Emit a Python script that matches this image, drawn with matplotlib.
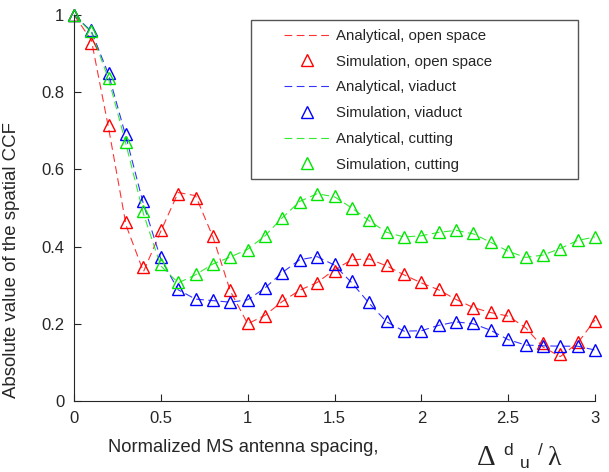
import numpy as np
import matplotlib.pyplot as plt
from matplotlib.patches import Rectangle

plt.rcParams['font.family'] = ['Liberation Sans', 'DejaVu Sans']

# normalized antenna spacing
spacing = np.round(np.arange(0, 3.01, 0.1), 1)

# simulation values (markers)
sim_open = [1.0, 0.927, 0.714, 0.464, 0.347, 0.442, 0.536, 0.527, 0.427, 0.287,
            0.201, 0.221, 0.261, 0.287, 0.306, 0.337, 0.367, 0.369, 0.352, 0.329,
            0.307, 0.289, 0.264, 0.241, 0.230, 0.223, 0.194, 0.150, 0.122, 0.153,
            0.207]
sim_viaduct = [1.0, 0.960, 0.849, 0.691, 0.518, 0.373, 0.290, 0.265, 0.261, 0.257,
               0.261, 0.292, 0.332, 0.365, 0.373, 0.356, 0.311, 0.257, 0.208, 0.181,
               0.181, 0.197, 0.205, 0.201, 0.184, 0.160, 0.145, 0.143, 0.143, 0.143,
               0.132]
sim_cutting = [1.0, 0.958, 0.838, 0.671, 0.492, 0.354, 0.309, 0.328, 0.356, 0.373,
               0.392, 0.427, 0.474, 0.516, 0.537, 0.530, 0.501, 0.468, 0.438, 0.425,
               0.428, 0.437, 0.442, 0.434, 0.412, 0.389, 0.373, 0.378, 0.395, 0.417,
               0.425]

# analytical values (dashed lines)
ana_open = [1.0, 0.935, 0.705, 0.455, 0.335, 0.440, 0.540, 0.532, 0.425, 0.285,
            0.200, 0.222, 0.258, 0.287, 0.307, 0.340, 0.366, 0.368, 0.350, 0.327,
            0.306, 0.288, 0.263, 0.242, 0.229, 0.220, 0.190, 0.140, 0.115, 0.150,
            0.210]
ana_viaduct = [1.0, 0.958, 0.845, 0.683, 0.510, 0.368, 0.288, 0.264, 0.260, 0.256,
               0.262, 0.293, 0.333, 0.366, 0.374, 0.352, 0.306, 0.253, 0.205, 0.181,
               0.182, 0.196, 0.205, 0.200, 0.183, 0.159, 0.145, 0.143, 0.142, 0.142,
               0.132]
ana_cutting = [1.0, 0.955, 0.833, 0.664, 0.485, 0.350, 0.306, 0.327, 0.355, 0.373,
               0.393, 0.428, 0.475, 0.517, 0.537, 0.529, 0.500, 0.467, 0.437, 0.425,
               0.428, 0.437, 0.442, 0.433, 0.411, 0.388, 0.372, 0.378, 0.395, 0.416,
               0.425]

red = '#ff0000'
blue = '#0000ff'
green = '#00e600'
txt = '#262626'

W, H = 609, 472
fig = plt.figure(figsize=(W/100, H/100), dpi=100)
ax = fig.add_axes([74/W, 1 - 401/H, (595 - 74)/W, (401 - 15)/H])

dash = (0, (7, 4))
ax.plot(spacing, ana_open, color=red, ls=dash, lw=0.8, alpha=0.8, label='Analytical, open space')
ax.plot(spacing, sim_open, '^', color=red, mfc='none', ms=8, mew=1, label='Simulation, open space')
ax.plot(spacing, ana_viaduct, color=blue, ls=dash, lw=0.8, alpha=0.8, label='Analytical, viaduct')
ax.plot(spacing, sim_viaduct, '^', color=blue, mfc='none', ms=8, mew=1, label='Simulation, viaduct')
ax.plot(spacing, ana_cutting, color=green, ls=dash, lw=0.8, alpha=0.8, label='Analytical, cutting')
ax.plot(spacing, sim_cutting, '^', color=green, mfc='none', ms=8, mew=1, label='Simulation, cutting')

ax.set_xlim(0, 3)
ax.set_ylim(0, 1)
ax.set_xticks([0, 0.5, 1, 1.5, 2, 2.5, 3])
ax.set_xticklabels(['0', '0.5', '1', '1.5', '2', '2.5', '3'])
ax.set_yticks([0, 0.2, 0.4, 0.6, 0.8, 1])
ax.set_yticklabels(['0', '0.2', '0.4', '0.6', '0.8', '1'])
ax.tick_params(direction='in', length=5, width=0.8, labelsize=12,
               colors=txt, pad=7)
for side in ['top', 'right']:
    ax.spines[side].set_visible(False)
for side in ['left', 'bottom']:
    ax.spines[side].set_color(txt)
    ax.spines[side].set_linewidth(0.8)
for ln in ax.lines:
    ln.set_clip_on(False)

# labels
fig.text(12/W, 1 - 260/H, 'Absolute value of the spatial CCF', rotation=90,
         ha='center', va='center', fontsize=13.4, color=txt)
fig.text(108/W, 1 - 447/H, 'Normalized MS antenna spacing,',
         ha='left', va='center', fontsize=13.2, color=txt)

# Δ d u / λ, pieces placed like the original
serif = ['Liberation Serif', 'DejaVu Serif']
fig.text(477/W, 1 - 465/H, '\u0394', ha='left', va='baseline', fontsize=21,
         family=serif, color=txt)
fig.text(508/W, 1 - 455/H, 'd', ha='center', va='baseline', fontsize=12.5, color=txt)
fig.text(525/W, 1 - 468/H, 'u', ha='center', va='baseline', fontsize=12.5, color=txt)
fig.text(540/W, 1 - 455/H, '/', ha='center', va='baseline', fontsize=12.5, color=txt)
fig.text(547/W, 1 - 465/H, '\u03bb', ha='left', va='baseline', fontsize=20,
         family=serif, color=txt)

# legend
leg = ax.legend(loc='upper left', bbox_to_anchor=(284/W, 1 - 29/H),
                bbox_transform=fig.transFigure, frameon=False, fontsize=10.8,
                handlelength=3.13, handletextpad=0.33, labelspacing=0.78,
                borderpad=0, borderaxespad=0)
for t in leg.get_texts():
    t.set_color(txt)
fig.patches.append(Rectangle((251/W, 1 - 179/H), (578 - 251)/W, (179 - 20)/H,
                             transform=fig.transFigure, fill=False,
                             edgecolor='#555555', lw=1))

plt.savefig('out.png', dpi=100)
plt.close()
